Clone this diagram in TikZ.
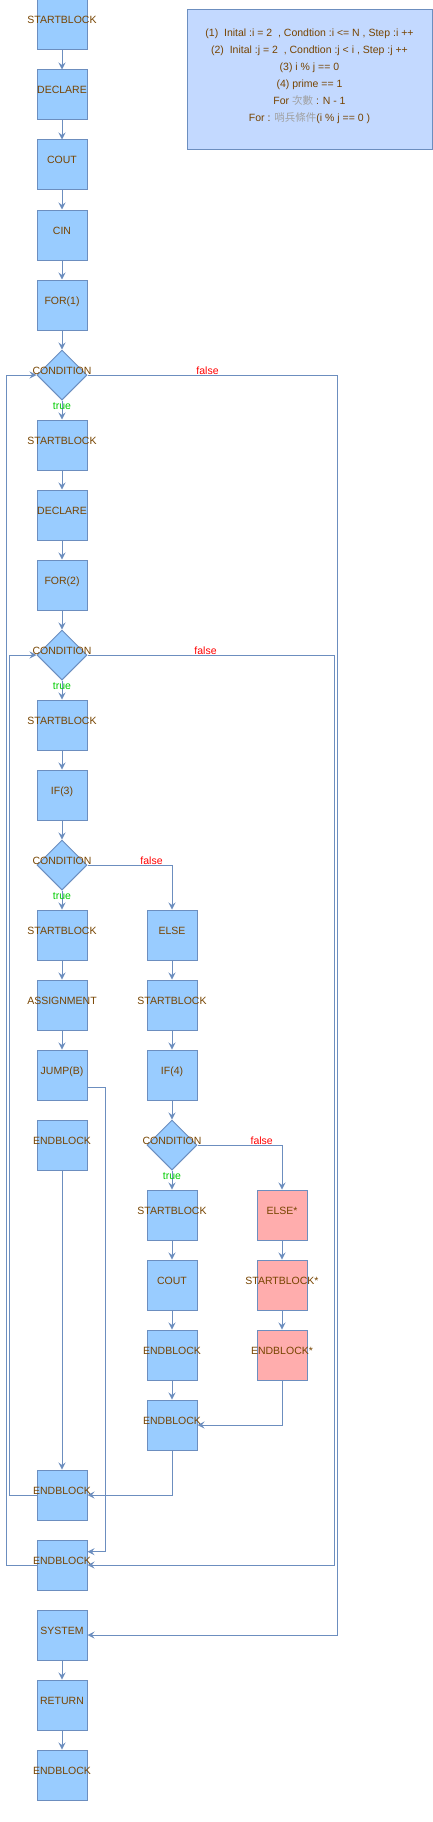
\documentclass[tikz,border=0pt]{standalone}
\usepackage{fontspec}
\setmainfont{Liberation Sans}
\newfontfamily\cjk{Noto Sans CJK TC}
\usetikzlibrary{arrows.meta,shapes.geometric}
\definecolor{boxfill}{HTML}{99CCFF}
\definecolor{pinkfill}{HTML}{FFADAD}
\definecolor{edgec}{HTML}{6C8EBF}
\definecolor{txtc}{HTML}{774400}
\definecolor{infofill}{HTML}{C3D9FF}
\definecolor{falsec}{HTML}{FF0000}
\definecolor{truec}{HTML}{00CC00}
\definecolor{cjkc}{HTML}{A0A0A0}
\tikzset{
  txt/.style={text=txtc, font=\fontsize{10.5}{12}\selectfont, inner sep=0pt, text height=7.5pt, text depth=0pt},
  blk/.style={draw=edgec, fill=boxfill, line width=1pt, minimum width=50pt, minimum height=50pt, inner sep=0pt, label={[txt,yshift=4.75pt]center:#1}},
  pblk/.style={blk=#1, fill=pinkfill},
  dia/.style={diamond, aspect=1, draw=edgec, fill=boxfill, line width=1pt, minimum width=50pt, minimum height=50pt, inner sep=0pt, label={[txt,yshift=4.75pt]center:#1}},
  flow/.style={draw=edgec, line width=1pt, -{Stealth[length=7pt,width=7pt,inset=2.5pt]}},
  lnk/.style={draw=edgec, line width=1pt},
  tlab/.style={text=truec, font=\fontsize{10.5}{12}\selectfont, inner sep=0pt, text height=7.5pt, text depth=0pt},
  flab/.style={text=falsec, font=\fontsize{10.5}{12}\selectfont, inner sep=0pt, text height=7.5pt, text depth=0pt},
  infobox/.style={draw=edgec, fill=infofill, line width=1pt},
  infotxt/.style={text=txtc, font=\fontsize{10.5}{17}\selectfont, align=center, inner sep=0pt},
}
\begin{document}
\begin{tikzpicture}[x=1pt,y=-1pt]
\useasboundingbox (0,0) rectangle (433,1822);
% info box
\node[infobox, minimum width=245pt, minimum height=140pt, inner sep=0pt] (info) at (309.8,80) {};
\node[infotxt, anchor=north] (infot) at (309.5,29) {(1)\ \ Inital :i = 2\ \ , Condtion :i <= N , Step :i ++\\
(2)\ \ Inital :j = 2\ \ , Condtion :j < i , Step :j ++\\
(3) i \% j == 0\\
(4) prime == 1\\
For {\cjk\color{cjkc}次數} : N - 1\\
For : {\cjk\color{cjkc}哨兵條件}(i \% j == 0 )};
% main column
\node[blk=STARTBLOCK] (s0) at (62,25) {};
\node[blk=DECLARE] (d0) at (62,95) {};
\node[blk=COUT] (co0) at (62,165) {};
\node[blk=CIN] (ci0) at (62,235) {};
\node[blk=FOR(1)] (f1) at (62,305) {};
\node[dia=CONDITION] (c1) at (62,375) {};
\node[blk=STARTBLOCK] (s1) at (62,445) {};
\node[blk=DECLARE] (d1) at (62,515) {};
\node[blk=FOR(2)] (f2) at (62,585) {};
\node[dia=CONDITION] (c2) at (62,655) {};
\node[blk=STARTBLOCK] (s2) at (62,725) {};
\node[blk=IF(3)] (if3) at (62,795) {};
\node[dia=CONDITION] (c3) at (62,865) {};
\node[blk=STARTBLOCK] (s3) at (62,935) {};
\node[blk=ASSIGNMENT] (asg) at (62,1005) {};
\node[blk=JUMP(B)] (jmp) at (62,1075) {};
\node[blk=ENDBLOCK] (e16) at (62,1145) {};
\node[blk=ENDBLOCK] (e21) at (62,1495) {};
\node[blk=ENDBLOCK] (e22) at (62,1565) {};
\node[blk=SYSTEM] (sys) at (62,1635) {};
\node[blk=RETURN] (ret) at (62,1705) {};
\node[blk=ENDBLOCK] (eend) at (62,1775) {};
% second column
\node[blk=ELSE] (el1) at (172,935) {};
\node[blk=STARTBLOCK] (s4) at (172,1005) {};
\node[blk=IF(4)] (if4) at (172,1075) {};
\node[dia=CONDITION] (c4) at (172,1145) {};
\node[blk=STARTBLOCK] (s5) at (172,1215) {};
\node[blk=COUT] (co1) at (172,1285) {};
\node[blk=ENDBLOCK] (e19) at (172,1355) {};
\node[blk=ENDBLOCK] (e20) at (172,1425) {};
% third column
\node[pblk=ELSE*] (el2) at (282,1215) {};
\node[pblk=STARTBLOCK*] (s6) at (282,1285) {};
\node[pblk=ENDBLOCK*] (e6) at (282,1355) {};
% straight flows
\draw[flow] (s0) -- (d0);
\draw[flow] (d0) -- (co0);
\draw[flow] (co0) -- (ci0);
\draw[flow] (ci0) -- (f1);
\draw[flow] (f1) -- (c1);
\draw[flow] (c1) -- (s1);
\draw[flow] (s1) -- (d1);
\draw[flow] (d1) -- (f2);
\draw[flow] (f2) -- (c2);
\draw[flow] (c2) -- (s2);
\draw[flow] (s2) -- (if3);
\draw[flow] (if3) -- (c3);
\draw[flow] (c3) -- (s3);
\draw[flow] (s3) -- (asg);
\draw[flow] (asg) -- (jmp);
\draw[flow] (e16) -- (e21);
\draw[flow] (sys) -- (ret);
\draw[flow] (ret) -- (eend);
\draw[flow] (el1) -- (s4);
\draw[flow] (s4) -- (if4);
\draw[flow] (if4) -- (c4);
\draw[flow] (c4) -- (s5);
\draw[flow] (s5) -- (co1);
\draw[flow] (co1) -- (e19);
\draw[flow] (e19) -- (e20);
\draw[flow] (el2) -- (s6);
\draw[flow] (s6) -- (e6);
% bent flows
\draw[flow] (c1.east) -- (337.3,375) |- (sys.east);
\draw[flow] (e22.west) -- (6.7,1565) |- (c1.west);
\draw[flow] (c2.east) -- (334.3,655) |- (e22.east);
\draw[flow] (e21.west) -- (9.3,1495) |- (c2.west);
\draw[flow] (c3.east) -| (el1.north);
\draw[flow] (c4.east) -| (el2.north);
\draw[flow] ([yshift=-12.3pt]jmp.east) -- (105.3,1087.3) |- ([yshift=13.3pt]e22.east);
\draw[flow] (e20.south) |- (e21.east);
\draw[flow] (e6.south) |- (e20.east);
% labels
\node[tlab] (t1) at (62,405.3) {true};
\node[tlab] (t2) at (62,685.3) {true};
\node[tlab] (t3) at (62,895.3) {true};
\node[tlab] (t4) at (172,1175.3) {true};
\node[flab] (fa1) at (207.5,370.3) {false};
\node[flab] (fa2) at (205.5,650.3) {false};
\node[flab] (fa3) at (151.5,860.3) {false};
\node[flab] (fa4) at (261.7,1140.3) {false};
\end{tikzpicture}
\end{document}
